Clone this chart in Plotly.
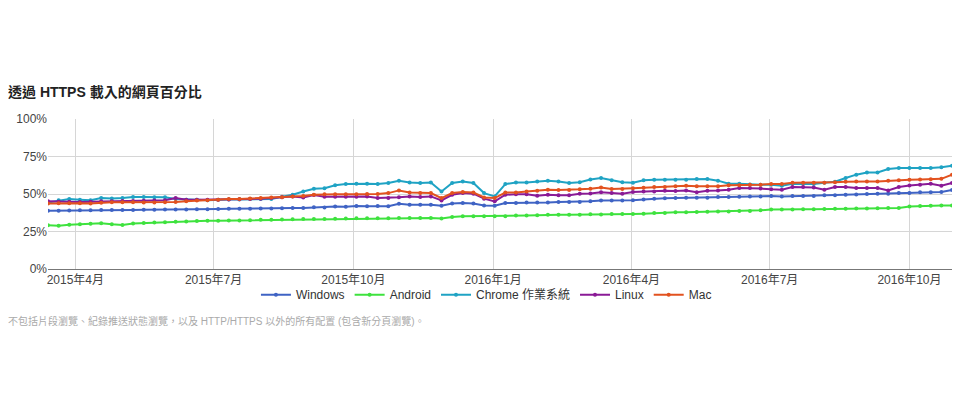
import plotly.graph_objects as go
import pandas as pd

# weekly samples, 2015-03-14 .. 2016-10-29
weeks = pd.date_range("2015-03-14", periods=86, freq="7D")

windows = [38.9, 38.9, 39.0, 39.1, 39.1, 39.3, 39.3, 39.4, 39.4, 39.5,
           39.5, 39.6, 39.6, 39.7, 39.8, 39.9, 40.0, 40.1, 40.1, 40.2,
           40.3, 40.4, 40.5, 40.6, 40.7, 41.1, 41.0, 41.6, 41.5, 42.0,
           41.8, 42.0, 41.9, 43.5, 42.9, 42.9, 42.9, 42.2, 43.6, 44.0,
           43.6, 42.4, 42.2, 44.0, 44.0, 44.4, 44.4, 44.4, 44.7, 44.7,
           44.7, 45.1, 45.6, 45.6, 45.6, 45.8, 46.4, 46.9, 47.1, 47.3,
           47.5, 47.5, 47.5, 48.0, 48.0, 48.2, 48.4, 48.4, 48.6, 48.4,
           48.6, 48.6, 48.7, 49.1, 49.2, 49.5, 49.6, 50.0, 50.1, 50.2,
           50.6, 50.6, 51.1, 51.1, 51.3, 52.7]

android = [29.1, 28.9, 29.5, 29.9, 30.2, 30.5, 29.8, 29.3, 30.3, 30.6,
           31.0, 31.1, 31.5, 31.6, 32.0, 32.1, 32.2, 32.3, 32.4, 32.5,
           32.9, 32.9, 33.0, 33.1, 33.3, 33.3, 33.4, 33.5, 33.6, 33.8,
           33.8, 33.9, 33.9, 34.0, 34.0, 34.0, 34.0, 33.6, 34.7, 35.1,
           35.1, 35.1, 35.1, 35.1, 35.6, 35.6, 35.8, 36.2, 36.2, 36.2,
           36.2, 36.5, 36.4, 36.6, 36.7, 36.7, 36.9, 37.3, 37.3, 37.8,
           37.8, 38.0, 38.2, 38.4, 38.4, 38.7, 38.7, 39.1, 39.7, 39.6,
           39.7, 39.8, 39.9, 40.0, 40.1, 40.2, 40.3, 40.4, 40.5, 40.6,
           40.7, 41.6, 42.0, 42.2, 42.3, 42.4]

chrome_os = [44.4, 45.8, 46.7, 46.2, 45.8, 47.3, 47.0, 47.3, 48.0, 48.0,
             47.8, 47.8, 46.7, 46.2, 46.2, 45.8, 46.2, 46.4, 46.4, 46.6,
             46.7, 46.7, 48.2, 49.5, 51.7, 53.5, 53.9, 55.8, 56.6, 56.9,
             56.9, 56.6, 57.3, 58.9, 57.7, 57.3, 57.7, 51.7, 57.3, 58.4,
             57.3, 50.6, 48.4, 56.6, 57.7, 57.7, 58.4, 58.8, 58.4, 57.3,
             57.8, 59.6, 60.6, 59.1, 57.9, 57.5, 59.1, 59.5, 59.5, 59.5,
             59.5, 60.0, 60.0, 58.9, 56.9, 56.9, 56.4, 56.2, 56.1, 55.5,
             56.9, 56.9, 56.7, 57.5, 58.2, 60.7, 62.9, 64.4, 64.4, 66.6,
             67.3, 67.3, 67.3, 67.3, 67.9, 68.9]

linux = [45.1, 44.9, 44.9, 44.7, 44.9, 45.1, 45.1, 45.3, 45.4, 45.5,
         45.6, 45.8, 47.3, 46.2, 46.2, 46.2, 46.2, 46.4, 46.5, 46.7,
         46.9, 47.3, 47.8, 48.4, 47.6, 49.3, 48.2, 48.2, 48.2, 48.2,
         48.4, 47.3, 47.3, 47.8, 48.3, 48.0, 48.4, 45.7, 49.5, 50.6,
         50.2, 46.9, 45.1, 49.5, 49.8, 49.8, 48.9, 49.5, 49.1, 49.1,
         50.2, 50.3, 51.1, 50.6, 50.2, 51.3, 51.7, 51.7, 52.2, 52.0,
         52.4, 51.1, 52.2, 52.4, 52.9, 54.0, 54.0, 53.6, 53.1, 52.9,
         54.6, 54.6, 54.4, 52.9, 54.6, 54.6, 54.0, 54.0, 54.0, 52.4,
         54.6, 55.7, 56.2, 56.9, 55.5, 57.3]

mac = [43.6, 43.8, 43.8, 43.9, 43.6, 44.2, 44.5, 44.5, 44.5, 44.4,
       44.3, 44.5, 44.7, 45.1, 45.6, 45.8, 46.2, 46.7, 46.7, 47.0,
       47.3, 47.6, 47.8, 48.4, 48.6, 49.5, 49.8, 49.8, 49.8, 49.8,
       50.0, 50.0, 50.6, 52.4, 51.0, 50.6, 50.6, 47.3, 50.6, 51.3,
       51.0, 47.7, 47.3, 51.0, 51.0, 51.7, 52.2, 52.9, 52.7, 52.7,
       53.1, 53.5, 54.4, 53.3, 53.3, 53.8, 54.2, 54.6, 54.6, 55.1,
       55.5, 55.1, 55.1, 55.1, 55.9, 55.9, 56.2, 56.2, 56.7, 56.7,
       57.5, 57.5, 57.5, 57.5, 57.9, 58.1, 58.4, 58.4, 58.4, 58.9,
       59.1, 59.5, 59.7, 59.9, 60.1, 62.9]

series_names = ["Windows", "Android", "Chrome 作業系統", "Linux", "Mac"]
series_values = [windows, android, chrome_os, linux, mac]
colors = ["#3f63c4", "#3ee23e", "#1fa3c4", "#8a1a96", "#e2521f"]

tick_dates = ["2015-04-01", "2015-07-01", "2015-10-01", "2016-01-01",
              "2016-04-01", "2016-07-01", "2016-10-01"]
tick_labels = ["2015年4月", "2015年7月", "2015年10月", "2016年1月",
               "2016年4月", "2016年7月", "2016年10月"]
y_ticks = [0, 25, 50, 75, 100]
y_labels = ["0%", "25%", "50%", "75%", "100%"]

cjk = "Arial, 'Liberation Sans', 'Noto Sans CJK TC', sans-serif"

# the page puts the figure 8px in from the top left corner
W, H = 952, 412
L, T, R, B = 34, 111, 8, 151

fig = go.Figure()
for name, vals, col in zip(series_names, series_values, colors):
    fig.add_trace(go.Scatter(
        x=weeks, y=vals, name=name, mode="lines+markers",
        line=dict(color=col, width=2),
        marker=dict(color=col, size=4)))

fig.update_layout(
    width=W, height=H,
    margin=dict(l=L, r=R, t=T, b=B),
    paper_bgcolor="white", plot_bgcolor="white",
    font=dict(family=cjk, size=12, color="#444"),
    title=dict(text="<b>透過 HTTPS 載入的網頁百分比</b>", x=0, xanchor="left",
               y=1 - 84 / H, yanchor="middle",
               font=dict(size=14, color="#222")),
    legend=dict(orientation="h", x=0.485, xanchor="center", y=-0.075, yanchor="top",
                bgcolor="rgba(0,0,0,0)",
                font=dict(size=12, color="#333")),
    showlegend=True,
)

fig.update_xaxes(
    range=[weeks[0], weeks[-1]],
    tickvals=tick_dates, ticktext=tick_labels,
    showgrid=True, gridcolor="#d6d6d6", gridwidth=1,
    showline=True, linecolor="#777", linewidth=1,
    ticks="", tickfont=dict(size=12, color="#444"),
    zeroline=False)

fig.update_yaxes(
    range=[0, 100], tickvals=y_ticks, ticktext=y_labels,
    showgrid=True, gridcolor="#d6d6d6", gridwidth=1,
    zeroline=False, showline=False, ticks="",
    tickfont=dict(size=12, color="#444"))

fig.add_annotation(
    text="不包括片段瀏覽、紀錄推送狀態瀏覽，以及 HTTP/HTTPS 以外的所有配置 (包含新分頁瀏覽)。",
    xref="paper", yref="paper", x=-L / (W - L - R), y=-(313 - 261) / 150,
    xanchor="left", yanchor="middle", showarrow=False, xshift=-8,
    font=dict(size=10, color="#aaa"))

fig.write_html("out.html")
